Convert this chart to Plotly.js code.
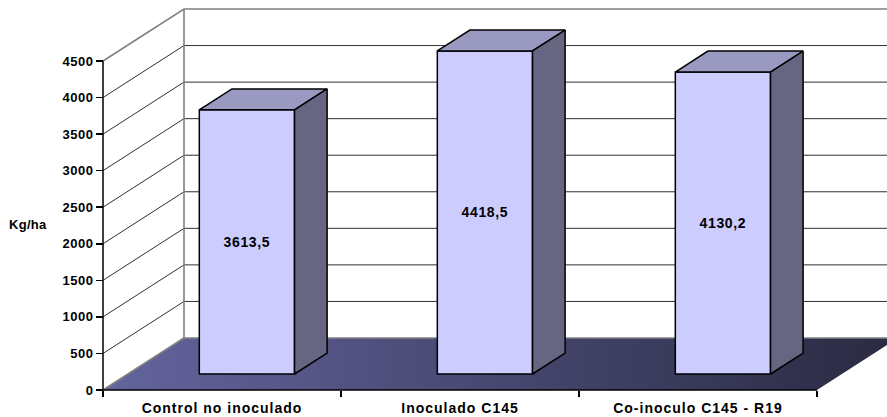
<!DOCTYPE html>
<html>
<head>
<meta charset="utf-8">
<script src="https://cdn.plot.ly/plotly-3.0.1.min.js"></script>
<style>
html,body{margin:0;padding:0;background:#fff;overflow:hidden}
/* Slightly extended lettering for the axis and value labels */
.xtick text{letter-spacing:1px}
.ytick text{letter-spacing:.5px}
.bartext{letter-spacing:.65px}
.annotation-text{letter-spacing:.3px}
</style>
</head>
<body>
<div id="chart" style="width:887px;height:417px"></div>
<script>
// Yield per treatment
const categories = ['Control no inoculado', 'Inoculado C145', 'Co-inoculo C145 - R19'];
const yieldValues = [3613.5, 4418.5, 4130.2];
const valueLabels = ['3613,5', '4418,5', '4130,2'];
const yTicks = [0, 500, 1000, 1500, 2000, 2500, 3000, 3500, 4000, 4500];
const yTitle = 'Kg/ha';

// Oblique projection: depth d in 0..1 shifts a point right and up in axis units
const W = 887, H = 417;
const bandPx = 238, firstCenterPx = 222, zeroPx = 390, unitPx = 329 / 4500;
const depthX = 81 / bandPx, depthY = 52 / unitPx;
const barWidth = 0.4, barFront = 0.3077, barBack = 0.71;
const topValue = yTicks[yTicks.length - 1];
const xMin = -0.5, xMax = categories.length - 0.5;
const px = (x, d) => x + d * depthX;
const py = (v, d) => v + d * depthY;

const xRange = [-firstCenterPx / bandPx, (W - firstCenterPx) / bandPx];
const yRange = [(zeroPx - H) / unitPx, zeroPx / unitPx];
const FONT = 'Liberation Sans, Arial, sans-serif';
const boldFont = size => ({family: FONT, size: size, color: '#000', weight: 700});

function polyline(points, color, width, axes) {
  return Object.assign({
    type: 'scatter', mode: 'lines', hoverinfo: 'skip', showlegend: false,
    x: points.map(p => p[0]), y: points.map(p => p[1]),
    line: {color: color, width: width}, cliponaxis: false
  }, axes || {});
}
function face(points, fill, axes) {
  return Object.assign(polyline(points.concat([points[0]]), '#000', 1.5, axes), {
    fill: 'toself', fillcolor: fill
  });
}

const traces = [];

// Floor with its left-to-right shading
traces.push({
  type: 'scatter', mode: 'lines', hoverinfo: 'skip', showlegend: false,
  x: [xMin, xMax, px(xMax, 1), px(xMin, 1), xMin],
  y: [0, 0, py(0, 1), py(0, 1), 0],
  line: {width: 0}, fill: 'toself',
  fillgradient: {type: 'horizontal', colorscale: [[0, '#64649e'], [1, '#2a2a42']]}
});

// Gridlines across the side wall and the back wall
yTicks.forEach(v => {
  const edge = v === 0 || v === topValue;
  traces.push(polyline(
    v === 0 ? [[px(xMin, 1), py(v, 1)], [px(xMax, 1), py(v, 1)]]
            : [[xMin, py(v, 0)], [px(xMin, 1), py(v, 1)], [xRange[1] + 1, py(v, 1)]],
    edge ? '#808080' : '#303030', edge ? 1.6 : 1));
});
// Wall edges
traces.push(polyline([[xMin, 0], [px(xMin, 1), py(0, 1)], [px(xMin, 1), py(topValue, 1)]], '#808080', 1.6));
// Axis lines on the front of the box
traces.push(polyline([[xMin, topValue], [xMin, 0], [xMax, 0]], '#000', 1.5));

// Columns, drawn on an overlay so they cover the grid and the floor
const over = {xaxis: 'x2', yaxis: 'y2'};
traces.push(Object.assign({
  type: 'bar', hoverinfo: 'skip', showlegend: false,
  x: categories.map((c, i) => px(i, barFront)),
  y: yieldValues,
  base: categories.map(() => py(0, barFront)),
  width: barWidth,
  marker: {color: '#ccccff', line: {color: '#000', width: 1.5}},
  text: valueLabels, textposition: 'inside', insidetextanchor: 'middle',
  textangle: 0, constraintext: 'none',
  insidetextfont: boldFont(14)
}, over));
yieldValues.forEach((v, i) => {
  const l = i - barWidth / 2, r = i + barWidth / 2;
  traces.push(face([[px(l, barFront), py(v, barFront)], [px(r, barFront), py(v, barFront)],
                    [px(r, barBack), py(v, barBack)], [px(l, barBack), py(v, barBack)]], '#9999c2', over));
  traces.push(face([[px(r, barFront), py(0, barFront)], [px(r, barFront), py(v, barFront)],
                    [px(r, barBack), py(v, barBack)], [px(r, barBack), py(0, barBack)]], '#666682', over));
});

const boundaries = categories.map((c, i) => i - 0.5).concat([xMax]);

const layout = {
  width: W, height: H,
  margin: {l: 0, r: 0, t: 0, b: 0, pad: 0},
  paper_bgcolor: '#fff', plot_bgcolor: '#fff',
  showlegend: false, barmode: 'overlay', hovermode: false,
  xaxis: {
    range: xRange, anchor: 'free', position: (H - zeroPx) / H,
    showgrid: false, zeroline: false, showline: false,
    tickmode: 'array', tickvals: categories.map((c, i) => i), ticktext: categories,
    ticks: '', tickfont: boldFont(14), tickangle: 0, ticklabelstandoff: 8,
    minor: {tickmode: 'array', tickvals: boundaries, ticks: 'outside', ticklen: 6, tickwidth: 1.5, tickcolor: '#000', showgrid: false}
  },
  yaxis: {
    range: yRange, anchor: 'free', position: 103 / W,
    showgrid: false, zeroline: false, showline: false,
    tickmode: 'array', tickvals: yTicks, ticktext: yTicks.map(String),
    ticks: 'outside', ticklen: 7, tickwidth: 1.5, tickcolor: '#000', tickfont: boldFont(13)
  },
  xaxis2: {range: xRange, overlaying: 'x', visible: false},
  yaxis2: {range: yRange, overlaying: 'y', visible: false},
  annotations: [{
    text: '<b>' + yTitle + '</b>', xref: 'paper', yref: 'paper',
    x: 28 / W, y: 1 - 224 / H, xanchor: 'center', yanchor: 'middle', showarrow: false,
    font: {family: FONT, size: 13, color: '#000'}
  }]
};

Plotly.newPlot('chart', traces, layout, {staticPlot: true, displayModeBar: false});
</script>
</body>
</html>
